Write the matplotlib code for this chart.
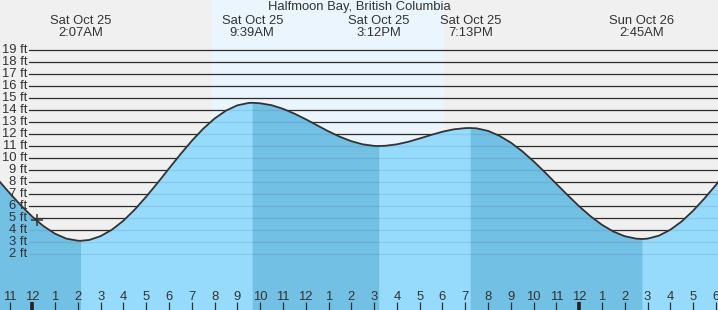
import numpy as np
import matplotlib
matplotlib.use("Agg")
import matplotlib.pyplot as plt
from matplotlib.transforms import blended_transform_factory

plt.rcParams['font.family'] = ['Liberation Sans', 'DejaVu Sans']

# ---- data ----
title = "Halfmoon Bay, British Columbia"
# hours since Sat Oct 25 00:00, half-hour samples
sample_start = -1.5
sample_step = 0.5
heights = [8.18, 7.09, 6.05, 5.11, 4.31, 3.69, 3.28, 3.11, 3.17, 3.49,
           4.03, 4.78, 5.71, 6.78, 7.93, 9.13, 10.31, 11.43, 12.44, 13.29,
           13.95, 14.39, 14.59, 14.56, 14.40, 14.10, 13.70, 13.23, 12.72, 12.22,
           11.77, 11.40, 11.14, 11.01, 11.02, 11.14, 11.35, 11.63, 11.92, 12.19,
           12.39, 12.49, 12.47, 12.26, 11.85, 11.28, 10.56, 9.72, 8.80, 7.84,
           6.89, 5.97, 5.14, 4.43, 3.87, 3.48, 3.28, 3.28, 3.53, 4.02,
           4.72, 5.61, 6.64, 7.76, 8.92]
ext_hours = [2.117, 9.65, 15.2, 19.217, 26.75]
ext_heights = [3.1, 14.6, 11.0, 12.5, 3.25]
ext_kind = ['L', 'H', 'L', 'H', 'L']
ext_dates = ["Sat Oct 25", "Sat Oct 25", "Sat Oct 25", "Sat Oct 25", "Sun Oct 26"]
ext_times = ["2:07AM", "9:39AM", "3:12PM", "7:13PM", "2:45AM"]
sunrise, sunset = 7.88, 18.06
now_hour, now_height = 0.2, 4.8
ft_levels = list(range(2, 20))
hour_ticks = list(range(-1, 31))

# ---- figure ----
W, H = 718, 310
fig = plt.figure(figsize=(W / 100, H / 100), dpi=100)
ax = fig.add_axes([0, 0, 1, 1])
x0, x1 = -1.417, 30.09
y0, y1 = -2.667, 23.167
ax.set_xlim(x0, x1)
ax.set_ylim(y0, y1)
ax.set_facecolor('#f0f0f0')
for s in ax.spines.values():
    s.set_visible(False)
ax.set_xticks([])
ax.set_yticks([])

light = '#96dbfc'
dark = '#72c0e4'
txt = '#333333'

ax.axvspan(sunrise, sunset, color='#eaf5fe', zorder=0.5, lw=0)

# merge samples and extremes
t_s = sample_start + sample_step * np.arange(len(heights))
t_all = np.concatenate([t_s, ext_hours])
h_all = np.concatenate([heights, ext_heights])
o = np.argsort(t_all)
t_all, h_all = t_all[o], h_all[o]

gx = 29 / W
for lv in ft_levels:
    ax.axhline(lv, xmin=gx, xmax=1, color='#333333', lw=0.9, zorder=1)
    ax.text(27 / W, lv, f"{lv} ft", transform=blended_transform_factory(ax.transAxes, ax.transData),
            ha='right', va='center', fontsize=9.4, color=txt, zorder=6)

ax.fill_between(t_all, h_all, y0, color=light, lw=0, zorder=2)

# falling-tide bands (high -> low)
intervals = []
if ext_kind[0] == 'L':
    intervals.append((t_all[0], ext_hours[0]))
for i in range(len(ext_kind) - 1):
    if ext_kind[i] == 'H' and ext_kind[i + 1] == 'L':
        intervals.append((ext_hours[i], ext_hours[i + 1]))
for a, b in intervals:
    m = (t_all >= a - 1e-9) & (t_all <= b + 1e-9)
    ax.fill_between(t_all[m], h_all[m], y0, color=dark, lw=0, zorder=2.1)

for lv in ft_levels:
    ax.axhline(lv, xmin=gx, xmax=1, color='black', alpha=0.08, lw=0.9, zorder=3)

ax.plot(t_all, h_all, color='#333333', lw=1.3, zorder=4, solid_capstyle='round')
ax.plot([now_hour], [now_height], marker='+', ms=9, mew=1.1, color='#333333', zorder=5)

# top labels
bt = blended_transform_factory(ax.transData, ax.transAxes)
for t, d, tm in zip(ext_hours, ext_dates, ext_times):
    ax.text(t, 1 - 24.3 / H, d, transform=bt, ha='center', va='baseline', fontsize=9.4, color=txt)
    ax.text(t, 1 - 36 / H, tm, transform=bt, ha='center', va='baseline', fontsize=9.4, color=txt)
ax.text(0.5, 1 - 10 / H, title, transform=ax.transAxes, ha='center', va='baseline', fontsize=9.4, color=txt)

# hour ticks
for hr in hour_ticks:
    lab = str((hr - 1) % 12 + 1)
    ax.text(hr, 10 / H, lab, transform=bt, ha='center', va='baseline', fontsize=9.4, color=txt, zorder=6)
    midnight = (hr % 24 == 0)
    ax.plot([hr, hr], [0, 8 / H], transform=bt, color='#333333' if not midnight else '#222222',
            lw=2.6 if midnight else 0.9, zorder=6, solid_capstyle='butt')

fig.savefig('out.png', dpi=100)
